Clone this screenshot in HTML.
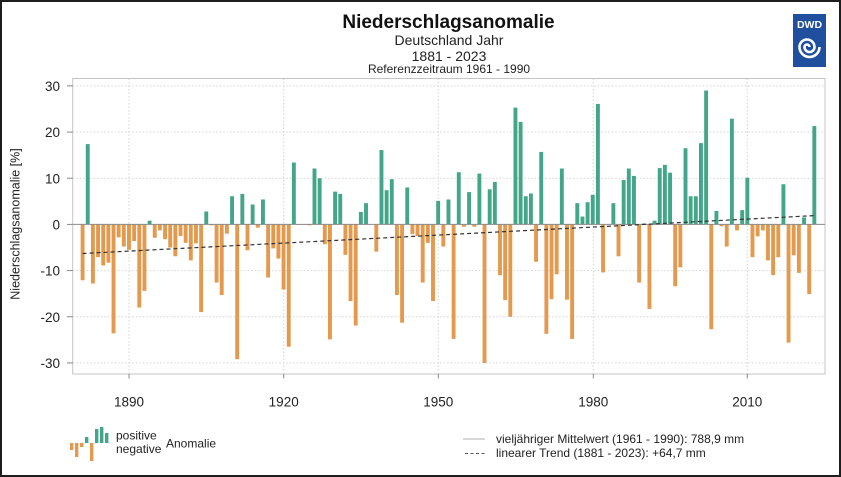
<!DOCTYPE html>
<html><head><meta charset="utf-8"><style>
html,body{margin:0;padding:0;background:#fff;}
body{width:841px;height:477px;overflow:hidden;}
svg{display:block;font-family:"Liberation Sans",Arial,sans-serif;}
</style></head><body>
<svg id="s" width="841" height="477" viewBox="0 0 841 477" xmlns="http://www.w3.org/2000/svg">
<rect x="1" y="1" width="839" height="475" fill="#fff" stroke="#1e1e1e" stroke-width="2"/>
<text x="448.5" y="28" font-size="19" font-weight="bold" text-anchor="middle" fill="#111">Niederschlagsanomalie</text>
<text x="449" y="45" font-size="14" text-anchor="middle" fill="#222">Deutschland Jahr</text>
<text x="449" y="61" font-size="14" text-anchor="middle" fill="#222">1881 - 2023</text>
<text x="449" y="73" font-size="12" text-anchor="middle" fill="#222">Referenzzeitraum 1961 - 1990</text>
<rect x="793" y="14" width="33" height="53" fill="#1f4f9d"/>
<text x="809.5" y="28" font-size="10.5" font-weight="bold" text-anchor="middle" fill="#fff">DWD</text>
<path d="M819.5 47 A10 10 0 0 1 799.5 47 A7.5 7.5 0 0 1 814.5 47 A5 5 0 0 1 804.5 47 A2.5 2.5 0 0 1 809.5 47" fill="none" stroke="#fff" stroke-width="2.6"/>
<g id="grid" stroke="#d4d4d4" stroke-width="1" stroke-dasharray="1.5 2"></g>
<rect x="72.7" y="78.5" width="752.3" height="295.5" fill="none" stroke="#c4c4c4" stroke-width="1"/>
<g id="bars"></g>
<line x1="72.7" y1="224.4" x2="825" y2="224.4" stroke="#8a8a8a" stroke-width="1"/>
<line x1="82.6" y1="253.5" x2="814.3" y2="215.6" stroke="#333" stroke-width="1.2" stroke-dasharray="4 3"/>
<g id="ticks" stroke="#888" stroke-width="1"></g>
<g font-size="13.5" fill="#222" text-anchor="end">
<text x="60" y="91">30</text>
<text x="60" y="137">20</text>
<text x="60" y="183.5">10</text>
<text x="60" y="229.5">0</text>
<text x="60" y="275.5">-10</text>
<text x="60" y="322">-20</text>
<text x="60" y="368">-30</text>
</g>
<g font-size="13.5" fill="#222" text-anchor="middle">
<text x="129" y="406.5">1890</text>
<text x="283.7" y="406.5">1920</text>
<text x="438.3" y="406.5">1950</text>
<text x="593.3" y="406.5">1980</text>
<text x="747.3" y="406.5">2010</text>
</g>
<text transform="translate(19.5,224) rotate(-90)" font-size="12.5" text-anchor="middle" fill="#222">Niederschlagsanomalie [%]</text>
<g fill="#e49a4e">
<rect x="70" y="443" width="3.4" height="7"/>
<rect x="75" y="443" width="3.4" height="14"/>
<rect x="80" y="443" width="3.4" height="4"/>
<rect x="90" y="443" width="3.4" height="18"/>
</g>
<g fill="#43a688">
<rect x="85" y="437" width="3.4" height="6"/>
<rect x="95" y="429" width="3.4" height="14"/>
<rect x="100" y="427" width="3.4" height="16"/>
<rect x="105" y="433" width="3.4" height="10"/>
</g>
<text x="116" y="439.5" font-size="12" fill="#222">positive</text>
<text x="116" y="453" font-size="12" fill="#222">negative</text>
<text x="166" y="447.5" font-size="12" fill="#222">Anomalie</text>
<line x1="463" y1="439" x2="485" y2="439" stroke="#bdbdbd" stroke-width="1.2"/>
<line x1="465" y1="453.5" x2="485" y2="453.5" stroke="#555" stroke-width="1.1" stroke-dasharray="3 2.5"/>
<text x="496" y="443" font-size="12" fill="#222">vieljähriger Mittelwert (1961 - 1990): 788,9 mm</text>
<text x="496" y="457" font-size="12" fill="#222">linearer Trend (1881 - 2023): +64,7 mm</text>
</svg>
<script>
var v=[-12.1,17.4,-12.8,-7.1,-8.9,-8.3,-23.6,-2.8,-4.8,-5.5,
-3.6,-18.0,-14.4,0.8,-2.9,-1.3,-3.2,-5.0,-6.9,-2.5,
-4.0,-7.8,-4.1,-19.0,2.8,-0.2,-12.6,-15.3,-2.0,6.1,
-29.2,6.6,-5.6,4.3,-0.7,5.4,-11.5,-5.2,-7.4,-14.1,
-26.5,13.4,-0.1,-0.1,-0.2,12.1,10.0,-4.3,-24.9,7.1,
6.6,-6.6,-16.6,-21.9,2.7,4.6,0,-5.9,16.1,7.4,
9.8,-15.3,-21.3,8.0,-2.1,-2.5,-12.6,-4.0,-16.6,5.1,
-4.8,5.4,-24.8,11.3,-0.5,7.0,-0.5,11.0,-30.0,7.6,
9.2,-11.0,-16.4,-20.0,25.3,22.2,6.1,6.7,-8.1,15.7,
-23.7,-16.2,-10.8,12.1,-16.3,-24.8,4.6,1.7,4.8,6.4,
26.1,-10.4,0,4.6,-6.9,9.6,12.1,10.5,-12.6,0.2,
-18.3,0.8,12.2,12.9,11.2,-13.4,-9.3,16.5,6.1,6.1,
17.6,29.0,-22.7,2.9,-0.4,-4.8,22.9,-1.3,3.1,10.1,
-7.1,-2.6,-1.3,-7.8,-11.0,-7.1,8.7,-25.6,-6.7,-10.5,
1.5,-15.1,21.3];
var NS="http://www.w3.org/2000/svg";
function el(n,a,p){var e=document.createElementNS(NS,n);for(var k in a)e.setAttribute(k,a[k]);p.appendChild(e);return e;}
var bars=document.getElementById("bars"),grid=document.getElementById("grid"),ticks=document.getElementById("ticks");
var y0=224.4,sc=4.617,bw=3.9;
for(var i=0;i<v.length;i++){
  var xc=82.6+i*5.153,h=Math.abs(v[i])*sc;
  if(h<0.01)continue;
  var y=v[i]>0?y0-h:y0;
  el("rect",{x:(xc-bw/2).toFixed(2),y:y.toFixed(2),width:bw,height:h.toFixed(2),fill:v[i]>0?"#43a688":"#e49a4e"},bars);
}
[30,20,10,-10,-20,-30].forEach(function(t){var y=y0-t*sc;el("line",{x1:72.7,x2:825,y1:y,y2:y},grid);});
[30,20,10,0,-10,-20,-30].forEach(function(t){var y=y0-t*sc;el("line",{x1:67,x2:72.7,y1:y,y2:y},ticks);});
[129,283.7,438.3,593.3,747.3].forEach(function(x){el("line",{x1:x,x2:x,y1:78.5,y2:374},grid);el("line",{x1:x,x2:x,y1:374,y2:378.5},ticks);});
</script>
</body></html>
